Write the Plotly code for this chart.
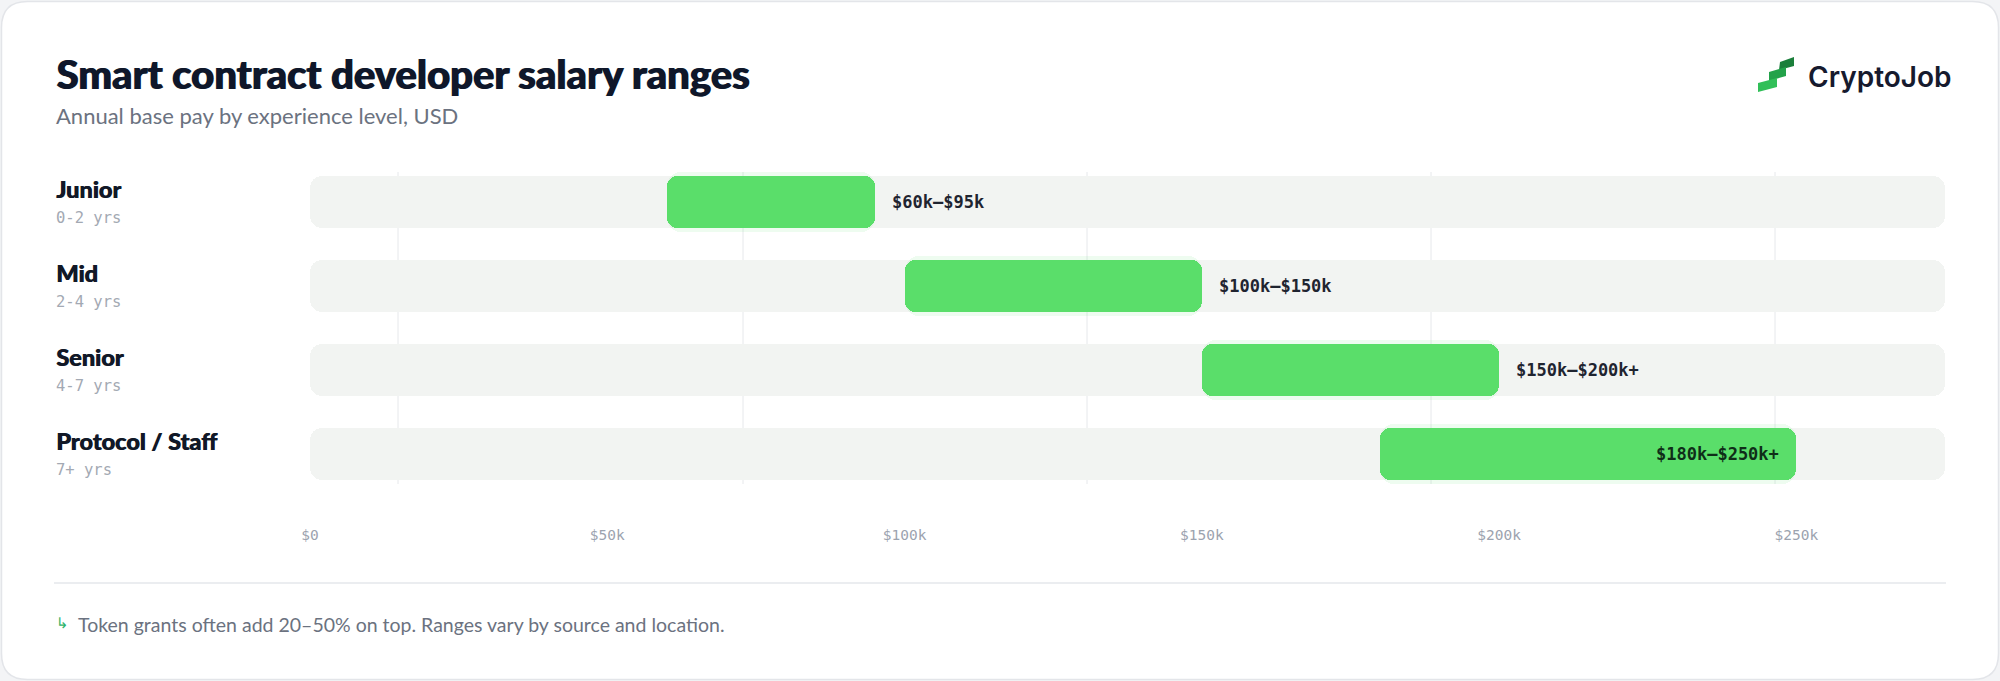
import plotly.graph_objects as go

# ---------------- data ----------------
levels = ["Junior", "Mid", "Senior", "Protocol / Staff"]
experience = ["0-2 yrs", "2-4 yrs", "4-7 yrs", "7+ yrs"]
salary_low = [60000, 100000, 150000, 180000]
salary_high = [95000, 150000, 200000, 250000]
range_labels = ["$60k–$95k", "$100k–$150k", "$150k–$200k+", "$180k–$250k+"]
tick_values = [0, 50000, 100000, 150000, 200000, 250000]
tick_labels = ["$0", "$50k", "$100k", "$150k", "$200k", "$250k"]
axis_max = 275000

title = "Smart contract developer salary ranges"
subtitle = "Annual base pay by experience level, USD"
footnote = "Token grants often add 20–50% on top. Ranges vary by source and location."
brand = "CryptoJob"

# ---------------- geometry / style ----------------
W, H = 2000, 681
L, R, T, B = 310, 55, 160, 185
PW, PH = W - L - R, H - T - B

SANS = "Lato"
MONO = "DejaVu Sans Mono"
DARK = "#111827"
GRAY = "#6b7280"
GREEN = "#5ade6a"
TRACK = "#f2f4f2"


def px(x):
    return (x - L) / PW


def py(y):
    return 1 - (y - T) / PH


def rounded_rect(x0, y0, x1, y1, r):
    a, b, c, d = px(x0), py(y0), px(x1), py(y1)
    rx, ry = r / PW, r / PH
    return (f"M {a+rx},{b} L {c-rx},{b} Q {c},{b} {c},{b-ry} "
            f"L {c},{d+ry} Q {c},{d} {c-rx},{d} L {a+rx},{d} "
            f"Q {a},{d} {a},{d+ry} L {a},{b-ry} Q {a},{b} {a+rx},{b} Z")


def poly(points):
    return "M " + " L ".join(f"{px(x)},{py(y)}" for x, y in points) + " Z"


fig = go.Figure()

# background tracks
fig.add_trace(go.Bar(
    y=levels, x=[axis_max] * len(levels), base=[0] * len(levels),
    orientation="h", width=0.62, marker=dict(color=TRACK, cornerradius=12, line_width=0),
    hoverinfo="skip", showlegend=False))

# soft glow
fig.add_trace(go.Bar(
    y=levels, x=[h - l for l, h in zip(salary_low, salary_high)], base=salary_low,
    orientation="h", width=0.72,
    marker=dict(color="rgba(90,222,106,0.10)", cornerradius=14, line_width=0),
    hoverinfo="skip", showlegend=False))

# salary ranges
fig.add_trace(go.Bar(
    y=levels, x=[h - l for l, h in zip(salary_low, salary_high)], base=salary_low,
    orientation="h", width=0.62, marker=dict(color=GREEN, cornerradius=10, line_width=0),
    showlegend=False))

annotations = []
for lvl, exp, lo, hi, lab in zip(levels, experience, salary_low, salary_high, range_labels):
    annotations.append(dict(x=px(54), xref="paper", y=lvl, yref="y", yshift=13,
                            text=lvl, showarrow=False, xanchor="left", yanchor="middle",
                            font=dict(family=SANS, size=23.5, color=DARK, weight=900,
                                      shadow="0.7px 0 0 #111827")))
    annotations.append(dict(x=px(54), xref="paper", y=lvl, yref="y", yshift=-16,
                            text=exp, showarrow=False, xanchor="left", yanchor="middle",
                            font=dict(family=MONO, size=15.5, color="#a3a9b3")))
    inside = hi >= 250000
    annotations.append(dict(x=hi, xref="x", y=lvl, yref="y",
                            xshift=-15 if inside else 15,
                            text=lab, showarrow=False,
                            xanchor="right" if inside else "left", yanchor="middle",
                            font=dict(family=MONO, size=17, weight=700,
                                      color="#0f2e18" if inside else "#1f2430")))

annotations += [
    dict(x=px(54), y=py(74), xref="paper", yref="paper", text=title, showarrow=False,
         xanchor="left", yanchor="middle",
         font=dict(family=SANS, size=40, color="#0f172a", weight=900,
                   shadow="1.2px 0 0 #0f172a")),
    dict(x=px(54), y=py(115), xref="paper", yref="paper", text=subtitle, showarrow=False,
         xanchor="left", yanchor="middle", font=dict(family=SANS, size=22, color=GRAY)),
    dict(x=px(1806), y=py(77), xref="paper", yref="paper", text=brand, showarrow=False,
         xanchor="left", yanchor="middle",
         font=dict(family="Inter", size=28, color="#161a2e", weight=600)),
    dict(x=px(54), y=py(623), xref="paper", yref="paper", text="↳", showarrow=False,
         xanchor="left", yanchor="middle", font=dict(family="DejaVu Sans", size=15, color="#2fb36a")),
    dict(x=px(76), y=py(624), xref="paper", yref="paper", text=footnote, showarrow=False,
         xanchor="left", yanchor="middle", font=dict(family=SANS, size=19.5, color=GRAY)),
]

shapes = [
    # card
    dict(type="path", xref="paper", yref="paper", path=rounded_rect(1.5, 1.5, 1998.5, 679.5, 26),
         fillcolor="white", line=dict(color="#e3e5e9", width=1.5), layer="below"),
    # separator
    dict(type="line", xref="paper", yref="paper", x0=px(54), x1=px(1946), y0=py(583), y1=py(583),
         line=dict(color="#e5e7eb", width=1.5), layer="below"),
]
# decorative vertical guides
for gx in [398, 743, 1087, 1431, 1775]:
    shapes.append(dict(type="line", xref="paper", yref="paper", x0=px(gx), x1=px(gx),
                       y0=py(172), y1=py(484), line=dict(color="#e6e8eb", width=1), layer="below"))
# logo mark
logo_steps = [
    ([(1780, 62), (1794, 57), (1794, 66), (1779, 70)], "#1b7f3b"),
    ([(1769, 72), (1786, 67), (1786, 76), (1769, 81)], "#23a24a"),
    ([(1758, 83), (1777, 78), (1777, 87), (1758, 92)], "#31bf58"),
]
for pts, col in logo_steps:
    shapes.append(dict(type="path", xref="paper", yref="paper", path=poly(pts),
                       fillcolor=col, line=dict(width=0)))

fig.update_layout(
    width=W, height=H,
    margin=dict(l=L, r=R, t=T, b=B, pad=0),
    paper_bgcolor="#f3f4f6", plot_bgcolor="rgba(0,0,0,0)",
    barmode="overlay", bargap=0,
    showlegend=False,
    xaxis=dict(range=[0, axis_max], tickvals=tick_values, ticktext=tick_labels,
               showgrid=False, zeroline=False, showline=False, ticks="",
               tickfont=dict(family=MONO, size=14.5, color="#9ca3af"),
               ticklabelstandoff=28, fixedrange=True),
    yaxis=dict(type="category", categoryorder="array", categoryarray=levels,
               range=[len(levels) - 0.5, -0.5], showticklabels=False,
               showgrid=False, zeroline=False, showline=False, fixedrange=True),
    annotations=annotations,
    shapes=shapes,
)

fig.write_html("out.html", config={"displayModeBar": False},
               post_script="document.body.style.margin='0';")
